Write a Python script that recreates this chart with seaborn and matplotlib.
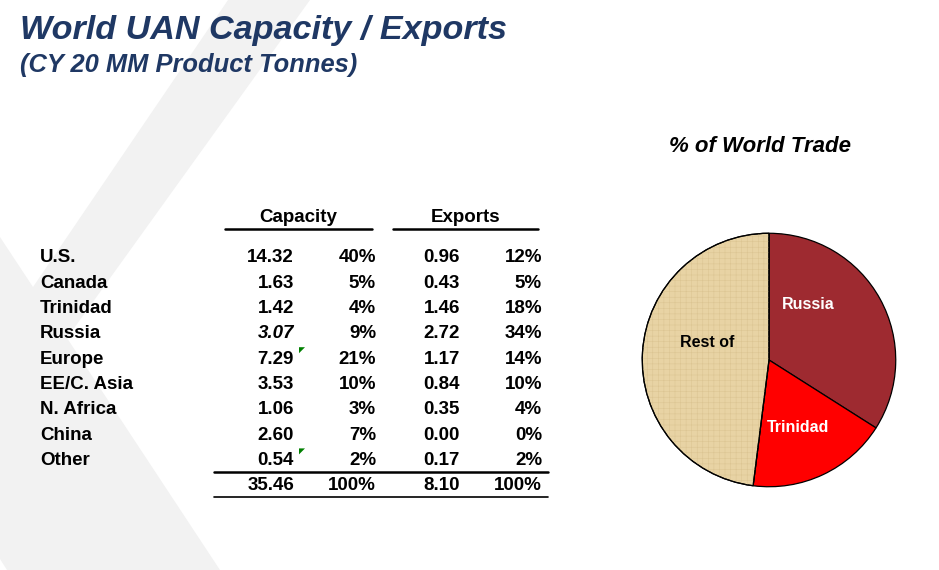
import numpy as np
import matplotlib
matplotlib.use("Agg")
import matplotlib.pyplot as plt
from matplotlib.patches import Polygon, Wedge
import seaborn as sns

# table data
regions = ['U.S.', 'Canada', 'Trinidad', 'Russia', 'Europe', 'EE/C. Asia', 'N. Africa', 'China', 'Other']
capacity = [14.32, 1.63, 1.42, 3.07, 7.29, 3.53, 1.06, 2.60, 0.54]
capacity_pct = [40, 5, 4, 9, 21, 10, 3, 7, 2]
exports = [0.96, 0.43, 1.46, 2.72, 1.17, 0.84, 0.35, 0.00, 0.17]
exports_pct = [12, 5, 18, 34, 14, 10, 4, 0, 2]
capacity_total = 35.46
exports_total = 8.10
total_pct = ['100%', '100%']
flagged = ['Europe', 'Other']  # cells with the little green comment marker

# pie data
pie_labels = ['Russia', 'Trinidad', 'Rest of']
pie_values = [34, 18, 48]
pie_colors = ['#9e2a30', '#ff0000', '#e8d3a4']
pie_text_colors = ['white', 'white', 'black']

sns.set_theme(style='white')
plt.rcParams['font.family'] = ['Liberation Sans', 'DejaVu Sans']
plt.rcParams['text.color'] = 'black'
plt.rcParams['hatch.linewidth'] = 0.4

W, H = 939, 570
fig = plt.figure(figsize=(W / 100, H / 100), dpi=100)
fig.patch.set_facecolor('white')

# pixel-space axes for background, titles and table
ax = fig.add_axes([0, 0, 1, 1])
ax.set_xlim(0, W)
ax.set_ylim(H, 0)
ax.axis('off')

# faint logo watermark
logo = [(228, 0), (310, 0), (67, 338), (220, 570), (7, 570), (0, 559),
        (0, 237), (33, 287)]
ax.add_patch(Polygon(logo, closed=True, facecolor='#f2f2f2', edgecolor='none', zorder=0))

navy = '#1f3864'
ax.text(20, 31, 'World UAN Capacity / Exports', color=navy, fontsize=24.6,
        fontweight='bold', fontstyle='italic', va='center', ha='left')
ax.text(20, 65, '(CY 20 MM Product Tonnes)', color=navy, fontsize=18.4,
        fontweight='bold', fontstyle='italic', va='center', ha='left')
ax.text(760, 147, '% of World Trade', color='black', fontsize=16,
        fontweight='bold', fontstyle='italic', va='center', ha='center')

# table layout
fs = 13.5
x_label = 40
x_cols = [294, 376, 460, 542]
y_head = 217
y0, step = 258, 25.3

ax.text(298, y_head, 'Capacity', fontsize=fs, fontweight='bold', ha='center', va='center')
ax.text(466, y_head, 'Exports', fontsize=fs, fontweight='bold', ha='center', va='center')
ax.plot([225, 372], [229, 229], color='black', lw=1.8)
ax.plot([393, 538], [229, 229], color='black', lw=1.8)

for i, name in enumerate(regions):
    y = y0 + i * step
    ax.text(x_label, y, name, fontsize=fs, fontweight='bold', ha='left', va='center')
    style = 'italic' if name == 'Russia' else 'normal'
    ax.text(x_cols[0], y, f'{capacity[i]:.2f}', fontsize=fs, fontweight='bold',
            fontstyle=style, ha='right', va='center')
    ax.text(x_cols[1], y, f'{capacity_pct[i]}%', fontsize=fs, fontweight='bold', ha='right', va='center')
    ax.text(x_cols[2], y, f'{exports[i]:.2f}', fontsize=fs, fontweight='bold', ha='right', va='center')
    ax.text(x_cols[3], y, f'{exports_pct[i]}%', fontsize=fs, fontweight='bold', ha='right', va='center')
    if name in flagged:
        tx, ty = x_cols[0] + 5, y - 12
        ax.add_patch(Polygon([(tx, ty), (tx + 6, ty), (tx, ty + 6)], closed=True,
                             facecolor='#008000', edgecolor='none'))

y_tot = y0 + len(regions) * step
ax.plot([214, 548], [y_tot - 13.5, y_tot - 13.5], color='black', lw=1.8)
ax.plot([214, 548], [y_tot + 11.5, y_tot + 11.5], color='black', lw=1.2)
ax.text(x_cols[0], y_tot, f'{capacity_total:.2f}', fontsize=fs, fontweight='bold', ha='right', va='center')
ax.text(x_cols[1], y_tot, total_pct[0], fontsize=fs, fontweight='bold', ha='right', va='center')
ax.text(x_cols[2], y_tot, f'{exports_total:.2f}', fontsize=fs, fontweight='bold', ha='right', va='center')
ax.text(x_cols[3], y_tot, total_pct[1], fontsize=fs, fontweight='bold', ha='right', va='center')

# pie chart
cx, cy, r = 769, 360, 128
pax = fig.add_axes([(cx - r) / W, (H - cy - r) / H, 2 * r / W, 2 * r / H])
wedges, _ = pax.pie(pie_values, colors=pie_colors, startangle=90, counterclock=False,
                    radius=1, wedgeprops=dict(edgecolor='black', linewidth=0.9))
pax.set_xlim(-1.01, 1.01)
pax.set_ylim(-1.01, 1.01)
pax.set_aspect('equal')
pax.axis('off')

# papyrus-like texture on the "Rest of" slice
rw = wedges[2]
pax.add_patch(Wedge(rw.center, rw.r, rw.theta1, rw.theta2, facecolor='none',
                    edgecolor='#dcc593', hatch='+++', linewidth=0, zorder=rw.get_zorder() + 0.1))
pax.add_patch(Wedge(rw.center, rw.r, rw.theta1, rw.theta2, facecolor='none',
                    edgecolor='black', linewidth=0.9, zorder=rw.get_zorder() + 0.2))

label_pos = [(0.31, 0.44), (0.23, -0.53), (-0.49, 0.14)]
for lab, (lx, ly), c in zip(pie_labels, label_pos, pie_text_colors):
    pax.text(lx, ly, lab, color=c, fontsize=11.5, fontweight='bold', ha='center', va='center',
             zorder=5)

fig.savefig('out.png', dpi=100, facecolor='white')
